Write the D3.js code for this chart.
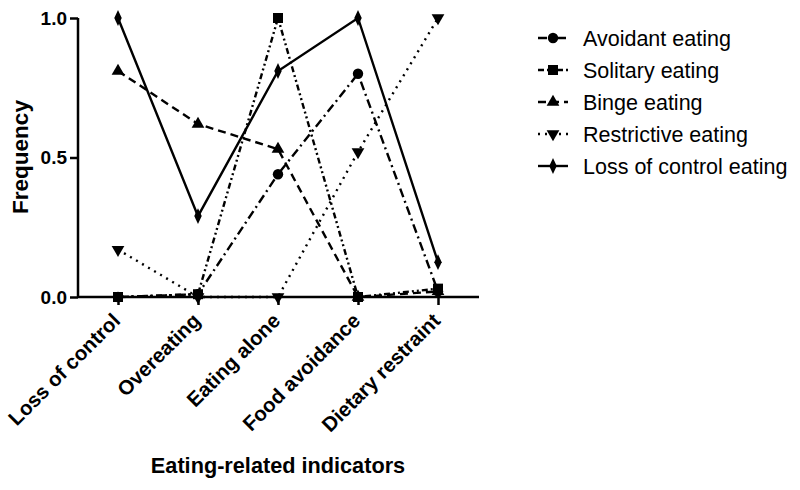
<!DOCTYPE html>
<html><head><meta charset="utf-8">
<script src="https://cdn.jsdelivr.net/npm/d3@7"></script>
<style>body{margin:0;background:#fff}svg{display:block}text{font-family:"Liberation Sans",Arial,sans-serif}</style>
</head><body><svg id="c" width="800" height="490"></svg>
<script>
const categories = ["Loss of control","Overeating","Eating alone","Food avoidance","Dietary restraint"];
const seriesNames = ["Avoidant eating","Solitary eating","Binge eating","Restrictive eating","Loss of control eating"];
const avoidant = [0.0, 0.01, 0.44, 0.80, 0.02];
const solitary = [0.0, 0.01, 1.0, 0.0, 0.03];
const binge = [0.81, 0.62, 0.53, 0.0, 0.02];
const restrictive = [0.17, 0.0, 0.0, 0.52, 1.0];
const lossOfControl = [1.0, 0.29, 0.81, 1.0, 0.125];
const yTicks = [0.0, 0.5, 1.0];

const seriesValues = [avoidant, solitary, binge, restrictive, lossOfControl];
const dashes = ["9,4,2,4", "6,3,2,3,2,3", "8,5", "2,5", null];
const symbols = [d3.symbolCircle, d3.symbolSquare, d3.symbolTriangle, "down", d3.symbolDiamond];
const symSizes = [85, 100, 70, 70, 60];

const svg = d3.select("#c");
const x = d3.scalePoint().domain(categories).range([118, 438]);
const y = d3.scaleLinear().domain([0, 1]).range([297, 18]);

function sym(i) {
  if (symbols[i] === "down") return d3.symbol().type(d3.symbolTriangle).size(symSizes[i])();
  return d3.symbol().type(symbols[i]).size(symSizes[i])();
}
function symTransform(i, px, py) {
  return symbols[i] === "down" ? `translate(${px},${py}) rotate(180)` : (symbols[i] === d3.symbolDiamond ? `translate(${px},${py}) scale(0.9,1.1)` : `translate(${px},${py})`);
}

// axes
const yAxis = svg.append("g").attr("transform", "translate(78,0)")
  .call(d3.axisLeft(y).tickValues(yTicks).tickFormat(d3.format(".1f")).tickSize(8).tickSizeOuter(0));
const xAxis = svg.append("g").attr("transform", "translate(0,297)")
  .call(d3.axisBottom(x).tickSize(8).tickSizeOuter(0));
xAxis.select(".domain").remove();
xAxis.append("line").attr("x1", 78).attr("x2", 479).attr("stroke", "#000").attr("stroke-width", 2.5);
[yAxis, xAxis].forEach(g => { g.selectAll("line,path").attr("stroke", "#000").attr("stroke-width", 2.5); });
yAxis.select(".domain").attr("d", `M0,${y(0)+1}V${y(1)}`);
yAxis.selectAll("text").attr("font-size", 19).attr("font-weight", "bold").attr("fill", "#000").attr("x", -11);
xAxis.selectAll(".tick text").attr("font-size", 20.5).attr("font-weight", "bold").attr("fill", "#000")
  .attr("text-anchor", "end").attr("dy", 0).attr("y", 0)
  .attr("transform", "translate(3,25) rotate(-45)");

// lines
const line = d3.line().x((d, i) => x(categories[i])).y(d => y(d));
seriesValues.forEach((vals, s) => {
  const g = svg.append("g");
  g.append("path").datum(vals).attr("d", line).attr("fill", "none").attr("stroke", "#000")
    .attr("stroke-width", 2.4).attr("stroke-dasharray", dashes[s]);
  g.selectAll("path.m").data(vals).join("path").attr("class", "m")
    .attr("d", sym(s)).attr("transform", (d, i) => symTransform(s, x(categories[i]), y(d))).attr("fill", "#000");
});

// axis titles
svg.append("text").attr("transform", "translate(28,157) rotate(-90)").attr("text-anchor", "middle")
  .attr("font-size", 22.5).attr("font-weight", "bold").text("Frequency");
svg.append("text").attr("x", 278).attr("y", 473).attr("text-anchor", "middle")
  .attr("font-size", 21.7).attr("font-weight", "bold").text("Eating-related indicators");

// legend
const lg = svg.append("g");
seriesNames.forEach((n, s) => {
  const ly = 38 + s * 32;
  lg.append("line").attr("x1", 538).attr("x2", 568).attr("y1", ly).attr("y2", ly)
    .attr("stroke", "#000").attr("stroke-width", 2.4).attr("stroke-dasharray", dashes[s]);
  lg.append("path").attr("d", sym(s)).attr("transform", symTransform(s, 553, ly)).attr("fill", "#000");
  lg.append("text").attr("x", 583).attr("y", ly + 7.5).attr("font-size", 21.5).attr("fill", "#000").text(n);
});
</script></body></html>
